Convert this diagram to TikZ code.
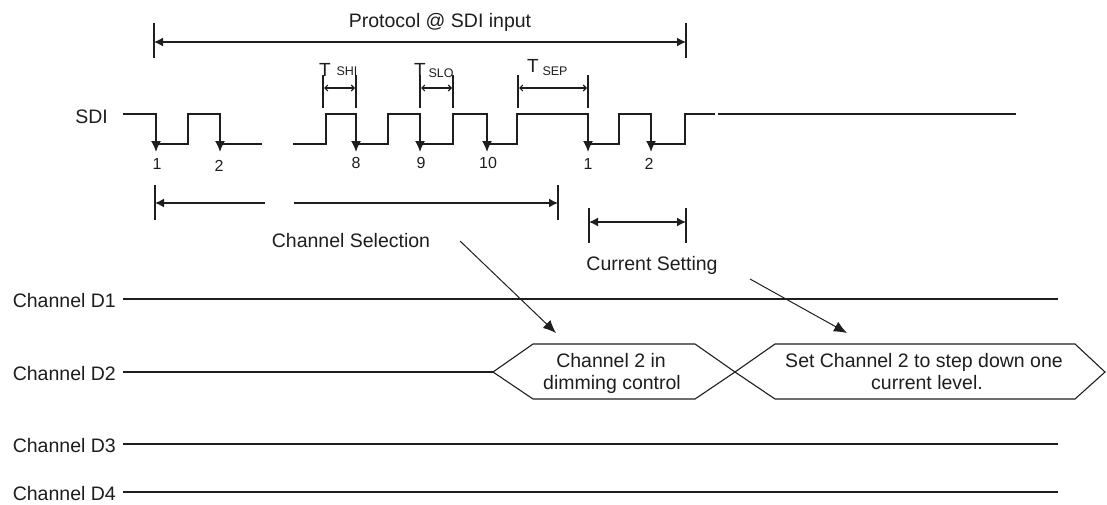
\documentclass[tikz,border=0pt]{standalone}
\usepackage{fontspec}
\setmainfont{Liberation Sans}
\usetikzlibrary{arrows.meta}
\definecolor{ink}{HTML}{1E1E1E}
\begin{document}
\begin{tikzpicture}[x=1pt,y=-1pt,
  sig/.style={ink,line width=1.6pt,line join=miter},
  chan/.style={ink,line width=1.6pt},
  tickline/.style={ink,line width=1.4pt},
  dimline/.style={ink,line width=1.4pt},
  dimtip/.tip={Latex[length=9pt,width=9pt]},
  edgearrow/.style={ink,line width=1.6pt,-{Latex[length=11pt,width=10pt]}},
  tdim/.style={ink,line width=1.1pt,{Straight Barb[length=3pt,width=6pt]}-{Straight Barb[length=3pt,width=6pt]}},
  hexline/.style={ink,line width=1.1pt,line join=miter},
  lbl/.style={ink,font=\fontsize{19.5}{23}\selectfont,inner sep=0pt},
  numlbl/.style={ink,font=\fontsize{16}{18}\selectfont,inner sep=0pt},
  tbig/.style={ink,font=\fontsize{19}{20}\selectfont,inner sep=0pt},
  tsub/.style={ink,font=\fontsize{12.5}{14}\selectfont,inner sep=0pt},
  pointer/.style={ink,line width=1pt,-{Latex[length=13pt,width=11pt]}}
]
\useasboundingbox (0,0) rectangle (1107,504);

% ---------- Protocol dimension ----------
\node[lbl,anchor=base] (proto) at (440,27) {Protocol @ SDI input};
\coordinate (pa) at (154,42);
\coordinate (pb) at (686,42);
\draw[tickline] (154,23) -- (154,58);
\draw[tickline] (686,23) -- (686,58);
\draw[dimline,{dimtip}-{dimtip}] (pa) -- (pb);

% ---------- SDI waveform ----------
\node[lbl,anchor=base east] (sdi) at (108,123) {SDI};
\draw[sig] (123,114) -- (156,114) -- (156,144) -- (188,144) -- (188,114)
  -- (220,114) -- (220,144) -- (262,144);
\draw[sig] (293,144) -- (326,144) -- (326,114) -- (356,114) -- (356,144)
  -- (388,144) -- (388,114) -- (420,114) -- (420,144) -- (453,144)
  -- (453,114) -- (487,114) -- (487,144) -- (517,144) -- (517,114)
  -- (588,114) -- (588,144) -- (619,144) -- (619,114) -- (651,114)
  -- (651,144) -- (685,144) -- (685,114) -- (715,114);
\draw[sig] (718,114) -- (1016,114);

% falling-edge arrows
\foreach \x in {156,220,356,420,487,588,651}
  \draw[edgearrow] (\x,114) -- (\x,152);

% edge numbers
\node[numlbl] (n1)  at (157,164) {1};
\node[numlbl] (n2)  at (219,166) {2};
\node[numlbl] (n8)  at (356,163) {8};
\node[numlbl] (n9)  at (421,163) {9};
\node[numlbl] (n10) at (488,163) {10};
\node[numlbl] (n1b) at (588,164) {1};
\node[numlbl] (n2b) at (649,164) {2};

% ---------- T_SHI, T_SLO, T_SEP ----------
\draw[tickline] (323,75) -- (323,108);
\draw[tickline] (356,75) -- (356,108);
\draw[tdim] (324,88) -- (355,88);
\node[tbig] (tshi) at (325,70) {T};
\node[tsub] (tshis) at (347,71) {SHI};

\draw[tickline] (420,75) -- (420,108);
\draw[tickline] (453,75) -- (453,108);
\draw[tdim] (421,88) -- (452,88);
\node[tbig] (tslo) at (420,70) {T};
\node[tsub] (tslos) at (441,73) {SLO};

\draw[tickline] (518,75) -- (518,108);
\draw[tickline] (588,75) -- (588,108);
\draw[tdim] (519,88) -- (587,88);
\node[tbig] (tsep) at (533,66) {T};
\node[tsub] (tseps) at (555,71) {SEP};

% ---------- Channel Selection dimension ----------
\draw[tickline] (155,185) -- (155,220);
\draw[tickline] (558,185) -- (558,220);
\coordinate (csa) at (155,203);
\coordinate (csg1) at (265,203);
\coordinate (csg2) at (294,203);
\coordinate (csb) at (558,203);
\draw[dimline,{dimtip}-] (csa) -- (csg1);
\draw[dimline,-{dimtip}] (csg2) -- (csb);
\node[lbl,anchor=base] (chsel) at (351,247) {Channel Selection};

% ---------- Current Setting dimension ----------
\draw[tickline] (589,208) -- (589,243);
\draw[tickline] (686,208) -- (686,243);
\coordinate (cua) at (589,222);
\coordinate (cub) at (686,222);
\draw[dimline,{dimtip}-{dimtip}] (cua) -- (cub);
\node[lbl,anchor=base] (curset) at (652,270) {Current Setting};

% ---------- Channel lines ----------
\node[lbl,anchor=base east] (d1) at (116,307) {Channel D1};
\node[lbl,anchor=base east] (d2) at (116,380) {Channel D2};
\node[lbl,anchor=base east] (d3) at (116,452) {Channel D3};
\node[lbl,anchor=base east] (d4) at (116,500) {Channel D4};
\draw[chan] (123,299) -- (1058,299);
\draw[chan] (123,372) -- (493,372);
\draw[chan] (123,444) -- (1058,444);
\draw[chan] (123,492) -- (1058,492);

% ---------- Bus hexagons ----------
\draw[hexline] (493,372) -- (533,344) -- (695,344) -- (735,372) -- (695,399) -- (533,399) -- cycle;
\draw[hexline] (735,372) -- (775,344) -- (1075,344) -- (1105,372) -- (1075,399) -- (775,399) -- cycle;
\node[lbl,anchor=base] (h1a) at (611,367) {Channel 2 in};
\node[lbl,anchor=base] (h1b) at (612,389) {dimming control};
\node[lbl,anchor=base] (h2a) at (924,367) {Set Channel 2 to step down one};
\node[lbl,anchor=base] (h2b) at (927,389) {current level.};

% ---------- Pointer arrows ----------
\coordinate (csp) at (460,241);
\coordinate (cst) at (556,333);
\coordinate (cup) at (750,279);
\coordinate (cut) at (847,333);
\draw[pointer] (csp) -- (cst);
\draw[pointer] (cup) -- (cut);
\end{tikzpicture}
\end{document}
